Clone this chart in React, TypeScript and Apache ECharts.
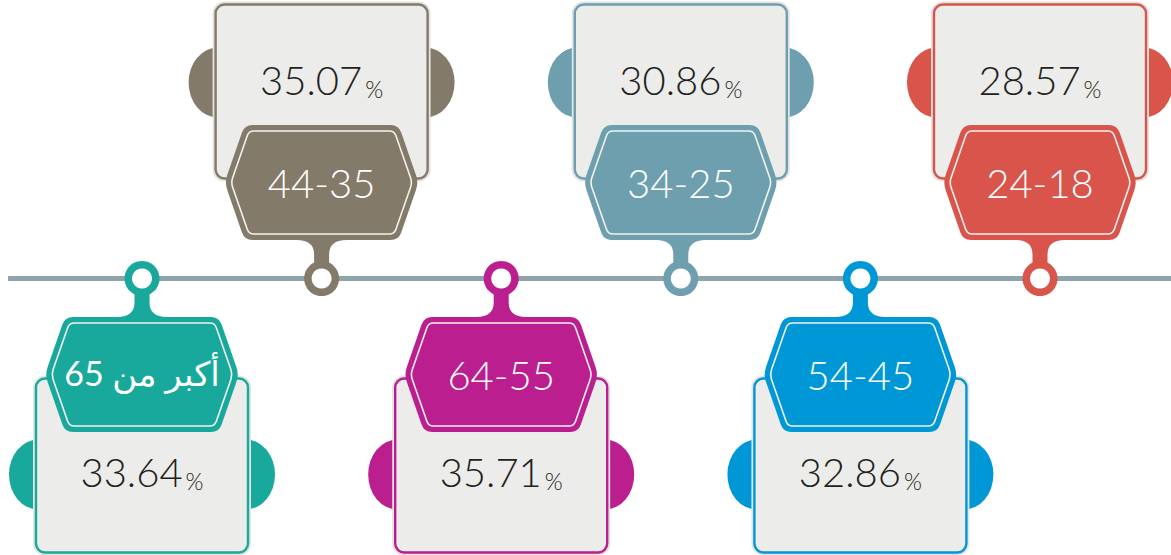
import React, { useEffect, useRef } from "react";
import * as echarts from "echarts";

const ageGroups = ["أكبر من 65", "44-35", "64-55", "34-25", "54-45", "24-18"];
const sharePercent = [33.64, 35.07, 35.71, 30.86, 32.86, 28.57];
const groupColors = ["#19a99c", "#847a69", "#bb1e8e", "#6e9fae", "#0097d7", "#d9544a"];
const placement = ["below", "above", "below", "above", "below", "above"];

const FONT = "Lato, 'DejaVu Sans', sans-serif";

function roundedPoly(pts: number[][], r: number): string {
  const n = pts.length;
  let d = "";
  for (let i = 0; i < n; i++) {
    const p = pts[i];
    const prev = pts[(i - 1 + n) % n];
    const next = pts[(i + 1) % n];
    const lp = Math.hypot(prev[0] - p[0], prev[1] - p[1]);
    const ln = Math.hypot(next[0] - p[0], next[1] - p[1]);
    const a = [p[0] + ((prev[0] - p[0]) * r) / lp, p[1] + ((prev[1] - p[1]) * r) / lp];
    const b = [p[0] + ((next[0] - p[0]) * r) / ln, p[1] + ((next[1] - p[1]) * r) / ln];
    d += (i === 0 ? "M" : "L") + a[0].toFixed(2) + " " + a[1].toFixed(2) + " ";
    d += "Q" + p[0] + " " + p[1] + " " + b[0].toFixed(2) + " " + b[1].toFixed(2) + " ";
  }
  return d + "Z";
}

function hexPts(tw: number, mw: number, h: number, c: number): number[][] {
  return [
    [-tw, c - h],
    [tw, c - h],
    [mw, c],
    [tw, c + h],
    [-tw, c + h],
    [-mw, c],
  ];
}

const HEX_C = 96;
const outerHex = roundedPoly(hexPts(77, 97, 57.5, HEX_C), 8);
const innerHex = roundedPoly(hexPts(72.7, 90.6, 51.5, HEX_C), 5);
const neckPath =
  "M-25 46 L-25 38.5 Q-7.5 38.5 -7.5 24 L-7.5 8 L7.5 8 L7.5 24 Q7.5 38.5 25 38.5 L25 46 Z";
const leftTab = "M-104 161 A29 35 0 0 0 -104 231 Z";
const rightTab = "M104 161 A29 35 0 0 1 104 231 Z";

function renderItem(params: any, api: any) {
  const idx = api.value(0);
  const share = api.value(1);
  const [cx, cy] = api.coord([idx, 0]);
  const color = groupColors[idx];
  const above = placement[idx] === "above";
  const s = above ? -1 : 1;
  const isArabic = /[\u0600-\u06FF]/.test(ageGroups[idx]);

  const pathEl = (d: string, style: any) => ({
    type: "path",
    shape: { pathData: d },
    style,
  });

  const shapes = {
    type: "group",
    x: cx,
    y: cy,
    scaleY: s,
    children: [
      pathEl(leftTab, { fill: color }),
      pathEl(rightTab, { fill: color }),
      {
        type: "rect",
        shape: { x: -109, y: 97, width: 218, height: 180, r: 12 },
        style: { fill: "#e3e3e1" },
      },
      {
        type: "rect",
        shape: { x: -106, y: 100, width: 212, height: 174, r: 9 },
        style: { fill: "#ececea", stroke: color, lineWidth: 2.4 },
      },
      pathEl(neckPath, { fill: color }),
      { type: "circle", shape: { cx: 0, cy: 0, r: 17.5 }, style: { fill: color } },
      { type: "circle", shape: { cx: 0, cy: 0, r: 10 }, style: { fill: "#ffffff" } },
      pathEl(outerHex, { fill: color }),
      pathEl(innerHex, { fill: "none", stroke: "#f2f1ee", lineWidth: 1.6 }),
    ],
  };

  const label = {
    type: "text",
    x: cx,
    y: cy + s * HEX_C - (isArabic ? 2 : 0),
    style: {
      text: ageGroups[idx],
      fill: "#ffffff",
      fontSize: isArabic ? 34 : 40,
      fontFamily: FONT,
      fontWeight: isArabic ? 400 : 300,
      align: "center",
      verticalAlign: "middle",
    },
  };

  const value = {
    type: "text",
    x: cx,
    y: cy + s * 196 - 4.5,
    style: {
      text: "{v|" + Number(share).toFixed(2) + "}{p|%}",
      align: "center",
      verticalAlign: "middle",
      rich: {
        v: {
          fontSize: 40,
          fontFamily: FONT,
          fontWeight: 300,
          fill: "#231f20",
          lineHeight: 44,
          verticalAlign: "bottom",
        },
        p: {
          fontSize: 23,
          fontFamily: FONT,
          fontWeight: 300,
          fill: "#231f20",
          lineHeight: 44,
          verticalAlign: "bottom",
          padding: [0, 0, 0, 3],
        },
      },
    },
  };

  return { type: "group", children: [shapes, label, value] };
}

export default function App() {
  const ref = useRef<HTMLDivElement>(null);
  useEffect(() => {
    if (!ref.current) return;
    const chart = echarts.init(ref.current, null, { renderer: "svg" });
    chart.setOption({
      animation: false,
      backgroundColor: "#ffffff",
      grid: { left: 52.2, right: 41.2, top: 2, bottom: 0 },
      xAxis: { type: "category", data: ageGroups, show: false },
      yAxis: { type: "value", min: -1, max: 1, show: false },
      graphic: [
        {
          type: "line",
          z: 0,
          shape: { x1: 8, y1: 278.5, x2: 1171, y2: 278.5 },
          style: { stroke: "#8fa3ad", lineWidth: 5 },
        },
      ],
      series: [
        {
          type: "custom",
          z: 5,
          renderItem,
          data: sharePercent.map((v, i) => [i, v]),
        },
      ],
    });
    return () => chart.dispose();
  }, []);
  return (
    <div
      ref={ref}
      style={{ position: "fixed", left: 0, top: 0, width: 1171, height: 555 }}
    />
  );
}
